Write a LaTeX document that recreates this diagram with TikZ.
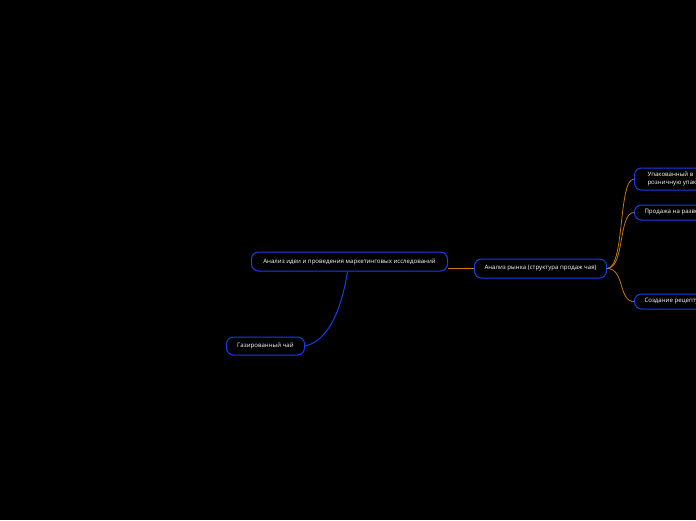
\documentclass[tikz,border=0pt]{standalone}
\usepackage{fontspec}
\setmainfont{Open Sans}
\usetikzlibrary{positioning}
\definecolor{topicblue}{RGB}{22,62,240}
\definecolor{branchorange}{RGB}{205,125,10}

\begin{document}
\begin{tikzpicture}[x=1pt,y=-1pt,topic/.style={draw=topicblue,line width=1pt,rounded corners=7pt,fill=black,text=white,font=\fontsize{6.1}{8.4}\selectfont,inner sep=0pt,anchor=west},leaf/.style={topic,align=left},branch/.style={draw=branchorange,line width=0.75pt},link/.style={draw=topicblue,line width=1pt}]
\clip (0,0) rectangle (696,520);
\fill[black] (0,0) rectangle (696,520);
\coordinate (I) at (251,261.5);
\coordinate (M) at (474,268.5);
\coordinate (G) at (226,346);
\coordinate (R1) at (634,179);
\coordinate (R2) at (634,212.5);
\coordinate (R3) at (634,301.5);
\node[topic,minimum width=196pt,minimum height=19pt] (idea) at (I) {Анализ идеи и проведения маркетинговых исследований};
\node[topic,minimum width=132pt,minimum height=19pt] (market) at (M) {Анализ рынка (структура продаж чая)};
\node[topic,minimum width=78pt,minimum height=18pt] (soda) at (G) {Газированный чай};
\node[leaf,minimum height=22pt,inner xsep=13pt] (packed) at (R1) {Упакованный в\\розничную упаковку};
\node[leaf,minimum height=15pt,inner xsep=10pt] (loose) at (R2) {Продажа на развес};
\node[leaf,minimum height=15pt,inner xsep=10pt] (recipe) at (R3) {Создание рецептуры};
\draw[branch] ([yshift=3pt]idea.south east) -- (market.west);
\draw[link] ([xshift=-2pt]idea.south) .. controls +(-8,50) and +(18,-4) .. (soda.east);
\draw[branch] (market.east) .. controls +(18,0) and +(-16,0) .. (packed.west);
\draw[branch] (market.east) .. controls +(18,0) and +(-16,0) .. (loose.west);
\draw[branch] (market.east) .. controls +(18,0) and +(-16,0) .. (recipe.west);
\end{tikzpicture}
\end{document}
